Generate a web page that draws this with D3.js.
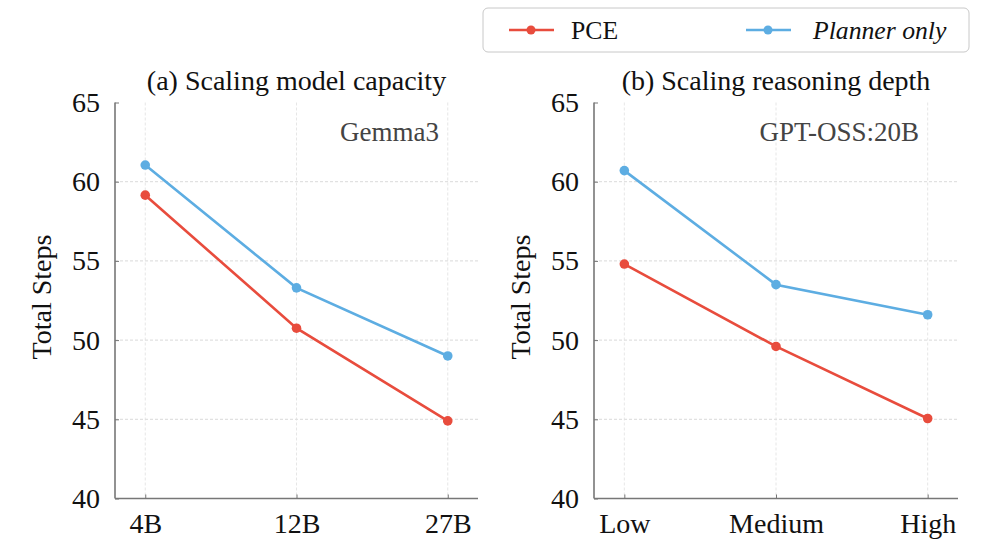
<!DOCTYPE html>
<html><head><meta charset="utf-8">
<script src="https://cdn.jsdelivr.net/npm/d3@7"></script>
<style>body{margin:0;background:#fff}svg{display:block}</style>
</head><body>
<svg id="c" width="997" height="545"></svg>
<script>
const seriesNames = ["PCE", "Planner only"];
const seriesColors = ["#e84c3d", "#5dade2"];
const catsA = ["4B", "12B", "27B"];
const pceA = [59.15, 50.75, 44.9];
const plannerA = [61.05, 53.3, 49.0];
const catsB = ["Low", "Medium", "High"];
const pceB = [54.8, 49.6, 45.05];
const plannerB = [60.7, 53.5, 51.6];
const yTicks = [40, 45, 50, 55, 60, 65];
const titles = ["(a) Scaling model capacity", "(b) Scaling reasoning depth"];
const notes = ["Gemma3", "GPT-OSS:20B"];

const svg = d3.select("#c");
const font = "'Liberation Serif','Times New Roman',serif";
const panels = [
  {x0:115, x1:478, cats:catsA, series:[pceA, plannerA], title:titles[0], note:notes[0]},
  {x0:594, x1:958, cats:catsB, series:[pceB, plannerB], title:titles[1], note:notes[1]}
];
const yTop = 102.5, yBot = 498.5;
const y = d3.scaleLinear().domain([40,65]).range([yBot, yTop]);

panels.forEach(p => {
  const g = svg.append("g");
  const x = d3.scalePoint().domain(p.cats).range([p.x0, p.x1]).padding(0.2);
  // grid
  g.selectAll(".gy").data(yTicks.slice(1,-1)).enter().append("line")
    .attr("x1", p.x0).attr("x2", p.x1).attr("y1", d=>y(d)).attr("y2", d=>y(d))
    .attr("stroke", "#cfcfcf").attr("stroke-width", 0.8).attr("stroke-dasharray", "3,2");
  g.selectAll(".gx").data(p.cats).enter().append("line")
    .attr("x1", d=>x(d)).attr("x2", d=>x(d)).attr("y1", yTop).attr("y2", yBot)
    .attr("stroke", "#e0e0e0").attr("stroke-width", 0.8).attr("stroke-dasharray", "3,2");
  // axes
  const ya = d3.axisLeft(y).tickValues(yTicks).tickSize(-4).tickPadding(15);
  const yg = g.append("g").attr("transform", `translate(${p.x0},0)`).call(ya);
  const xa = d3.axisBottom(x).tickSize(-4).tickPadding(15);
  const xg = g.append("g").attr("transform", `translate(0,${yBot})`).call(xa);
  [yg, xg].forEach(a => {
    a.select(".domain").attr("stroke", "#777").attr("stroke-width", 1.6);
    a.selectAll(".tick line").attr("stroke", "#777").attr("stroke-width", 1);
    a.selectAll(".tick text").attr("font-family", font).attr("font-size", 28).attr("fill", "#111");
  });
  xg.select(".domain").attr("d", `M${p.x0},0H${p.x1}`);
  yg.select(".domain").attr("d", `M0,${yBot}V${yTop}`);
  xg.selectAll(".tick text").attr("dy", "0.71em");
  // y label
  g.append("text").attr("transform", `translate(${p.x0-64},297) rotate(-90)`)
    .attr("text-anchor", "middle").attr("font-family", font).attr("font-size", 28).attr("fill", "#111")
    .text("Total Steps");
  // title
  g.append("text").attr("x", (p.x0+p.x1)/2).attr("y", 90).attr("text-anchor", "middle")
    .attr("font-family", font).attr("font-size", 28).attr("fill", "#111").text(p.title);
  // note
  g.append("text").attr("x", p.x1-39).attr("y", 141).attr("text-anchor", "end")
    .attr("font-family", font).attr("font-size", 27).attr("fill", "#444").text(p.note);
  // lines
  const line = d3.line().x((d,i)=>x(p.cats[i])).y(d=>y(d));
  p.series.forEach((s, si) => {
    g.append("path").datum(s).attr("d", line).attr("fill", "none")
      .attr("stroke", seriesColors[si]).attr("stroke-width", 2.6);
    g.selectAll(null).data(s).enter().append("circle")
      .attr("cx", (d,i)=>x(p.cats[i])).attr("cy", d=>y(d)).attr("r", 4.8)
      .attr("fill", seriesColors[si]);
  });
});

// legend
const lg = svg.append("g");
lg.append("rect").attr("x", 483).attr("y", 8).attr("width", 486).attr("height", 44).attr("rx", 5)
  .attr("fill", "#fff").attr("stroke", "#c8c8c8").attr("stroke-width", 1);
const legX = [509, 746], txtX = [571, 813];
seriesNames.forEach((n, i) => {
  lg.append("line").attr("x1", legX[i]).attr("x2", legX[i]+45).attr("y1", 30).attr("y2", 30)
    .attr("stroke", seriesColors[i]).attr("stroke-width", 2.6);
  lg.append("circle").attr("cx", legX[i]+22).attr("cy", 30).attr("r", 4.5).attr("fill", seriesColors[i]);
  lg.append("text").attr("x", txtX[i]).attr("y", 39).attr("font-family", font).attr("font-size", 25.7)
    .attr("font-style", i===1 ? "italic" : "normal").attr("fill", "#111").text(n);
});
</script>
</body></html>
